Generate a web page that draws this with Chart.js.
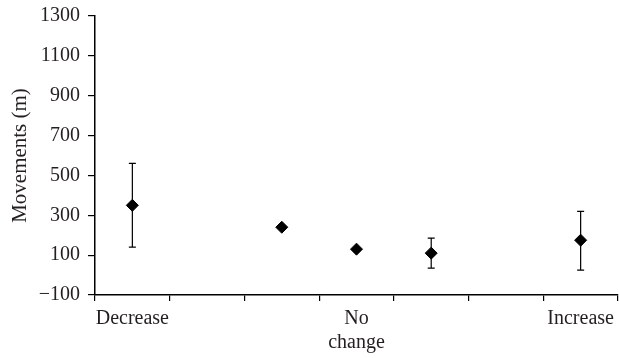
<!DOCTYPE html>
<html>
<head>
<meta charset="utf-8">
<script src="https://cdn.jsdelivr.net/npm/chart.js@4/dist/chart.umd.min.js"></script>
<style>
  html, body { margin: 0; padding: 0; background: #fff; }
  #wrap { width: 619px; height: 358px; }
</style>
</head>
<body>
<div id="wrap"><canvas id="chart" width="619" height="358"></canvas></div>
<script>
// data
const categories = ['Decrease', '', '', ['No', 'change'], '', '', 'Increase'];
const means = [350, null, 240, 130, 110, null, 175];
const errLow = [140, null, null, null, 35, null, 25];
const errHigh = [560, null, null, null, 185, null, 320];
const yTicks = [-100, 100, 300, 500, 700, 900, 1100, 1300];

const textColor = '#231f20';
const serif = "'Liberation Serif', 'DejaVu Serif', serif";

// error bars drawn through the y scale
const errorBars = {
    id: 'errorBars',
    afterDatasetsDraw(chart) {
        const ctx = chart.ctx;
        const x = chart.scales.x, y = chart.scales.y;
        ctx.save();
        ctx.strokeStyle = '#000';
        ctx.lineWidth = 1.2;
        means.forEach((m, i) => {
            if (errLow[i] == null || errHigh[i] == null) return;
            const px = x.getPixelForValue(i);
            const top = y.getPixelForValue(errHigh[i]);
            const bot = y.getPixelForValue(errLow[i]);
            ctx.beginPath();
            ctx.moveTo(px, top); ctx.lineTo(px, bot);
            ctx.moveTo(px - 3.5, top); ctx.lineTo(px + 3.5, top);
            ctx.moveTo(px - 3.5, bot); ctx.lineTo(px + 3.5, bot);
            ctx.stroke();
        });
        ctx.restore();
    }
};

new Chart(document.getElementById('chart'), {
    type: 'line',
    data: {
        labels: categories,
        datasets: [{
            data: means,
            showLine: false,
            clip: false,
            pointStyle: 'rectRot',
            pointRadius: 6,
            pointBackgroundColor: '#000',
            pointBorderColor: '#000',
            pointBorderWidth: 1
        }]
    },
    options: {
        responsive: false,
        animation: false,
        layout: { autoPadding: false, padding: { top: 16, right: 1, bottom: 0, left: 0 } },
        plugins: { legend: { display: false }, tooltip: { enabled: false } },
        scales: {
            x: {
                type: 'category',
                offset: true,
                grid: { display: true, drawOnChartArea: false, drawTicks: true, tickLength: 6, offset: true, color: '#000', lineWidth: 1.2 },
                border: { display: true, color: '#000', width: 1.5 },
                ticks: { color: textColor, font: { family: serif, size: 20, lineHeight: 1.2 }, padding: 6, maxRotation: 0, autoSkip: false },
                afterFit(s) { s.height = 63; s.paddingLeft = 0; s.paddingRight = 0; }
            },
            y: {
                min: -100,
                max: 1300,
                afterBuildTicks(s) { s.ticks = yTicks.map(v => ({ value: v })); },
                grid: { display: true, drawOnChartArea: false, drawTicks: true, tickLength: 7, color: '#000', lineWidth: 1.2 },
                border: { display: true, color: '#000', width: 1.5 },
                ticks: {
                    color: textColor,
                    font: { family: serif, size: 20 },
                    padding: 8,
                    callback: v => (v < 0 ? '\u2212' + Math.abs(v) : String(v))
                },
                title: { display: true, text: 'Movements (m)', color: textColor, font: { family: serif, size: 21 }, padding: { top: 8, bottom: 4 } },
                afterFit(s) { s.width = 95; s.paddingTop = 0; }
            }
        }
    },
    plugins: [errorBars]
});
</script>
</body>
</html>
